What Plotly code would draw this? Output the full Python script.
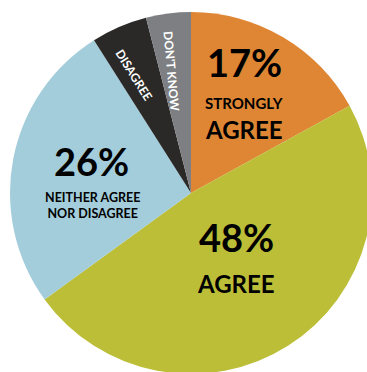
import plotly.graph_objects as go

# Survey response shares (percent), clockwise from 12 o'clock
categories = ["STRONGLY AGREE", "AGREE", "NEITHER AGREE NOR DISAGREE", "DISAGREE", "DON'T KNOW"]
values = [17, 48, 26, 5, 4]
colors = ["#DE8634", "#BBBE36", "#A3CDDB", "#2A2928", "#7E7F82"]

W, H = 372, 374  # canvas a little larger than the viewport; overflow is hidden

fig = go.Figure(go.Pie(
    labels=categories,
    values=values,
    sort=False,
    direction="clockwise",
    rotation=0,
    marker=dict(colors=colors, line=dict(width=0)),
    textinfo="none",
    hoverinfo="label+percent",
    showlegend=False,
    domain=dict(x=[10 / W, 1], y=[0, 1 - 12 / H]),
))


def px(x, y):
    return x / W, 1 - y / H


FONT = "Lato"


def label(x, y, text, size, color="#000000", angle=0):
    ax, ay = px(x, y)
    fig.add_annotation(
        x=ax, y=ay, xref="paper", yref="paper", text=text, showarrow=False,
        textangle=angle, xanchor="center", yanchor="middle", align="center",
        font=dict(family=FONT, size=size, color=color, weight="bold"),
    )


# Large slice labels
label(244, 62, f"{values[0]}%", 38)
label(244, 103, "STRONGLY", 15)
label(244, 129, "AGREE", 24)

label(236, 237, f"{values[1]}%", 38)
label(236, 283, "AGREE", 24)

label(91, 161, f"{values[2]}%", 38)
label(92, 205, "NEITHER AGREE<br>NOR DISAGREE", 12.5)

# Narrow slices get rotated labels
label(134, 74, "DISAGREE", 12, "#FFFFFF", 58)
label(172, 71, "DON'T KNOW", 12, "#FFFFFF", 85)

fig.update_layout(
    width=W, height=H,
    margin=dict(l=0, r=0, t=0, b=0),
    paper_bgcolor="#FFFFFF",
    plot_bgcolor="#FFFFFF",
)

fig.write_html(
    "out.html",
    post_script="document.documentElement.style.overflow='hidden';document.body.style.overflow='hidden';document.body.style.margin='0';",
)
